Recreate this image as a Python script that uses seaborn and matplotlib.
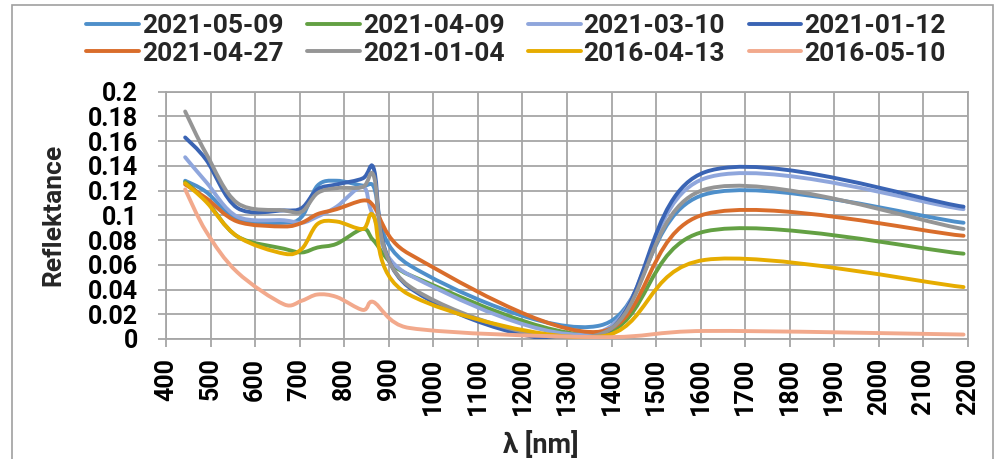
import numpy as np
import pandas as pd
import matplotlib
matplotlib.use("Agg")
import matplotlib.pyplot as plt
import seaborn as sns
from matplotlib.path import Path
from matplotlib.patches import PathPatch, Rectangle
from matplotlib.lines import Line2D

# ---- data (Sentinel-2 band centres, reflectance) ----
wavelength = [443, 490, 560, 665, 705, 740, 783, 842, 865, 945, 1375, 1610, 2190]

dates = ["2021-05-09", "2021-04-09", "2021-03-10", "2021-01-12",
         "2021-04-27", "2021-01-04", "2016-04-13", "2016-05-10"]

r_2021_05_09 = [0.128, 0.119, 0.097, 0.094, 0.099, 0.124, 0.128, 0.124, 0.124, 0.060, 0.011, 0.117, 0.094]
r_2021_04_09 = [0.127, 0.112, 0.083, 0.073, 0.070, 0.074, 0.077, 0.089, 0.080, 0.052, 0.004, 0.087, 0.069]
r_2021_03_10 = [0.147, 0.127, 0.099, 0.096, 0.094, 0.099, 0.107, 0.123, 0.100, 0.052, 0.006, 0.130, 0.105]
r_2021_01_12 = [0.163, 0.145, 0.106, 0.104, 0.106, 0.121, 0.125, 0.130, 0.139, 0.042, 0.003, 0.135, 0.107]
r_2021_04_27 = [0.125, 0.114, 0.095, 0.091, 0.094, 0.101, 0.105, 0.112, 0.108, 0.069, 0.006, 0.101, 0.0835]
r_2021_01_04 = [0.184, 0.150, 0.110, 0.104, 0.103, 0.118, 0.122, 0.123, 0.133, 0.043, 0.004, 0.121, 0.089]
r_2016_04_13 = [0.126, 0.111, 0.083, 0.069, 0.073, 0.093, 0.095, 0.089, 0.100, 0.036, 0.002, 0.064, 0.042]
r_2016_05_10 = [0.121, 0.087, 0.054, 0.028, 0.031, 0.036, 0.034, 0.0235, 0.030, 0.009, 0.0015, 0.0065, 0.0036]

series = [r_2021_05_09, r_2021_04_09, r_2021_03_10, r_2021_01_12,
          r_2021_04_27, r_2021_01_04, r_2016_04_13, r_2016_05_10]

colors = ["#4e8fca", "#63a043", "#8fa6dc", "#3a64b4",
          "#d96d2b", "#959595", "#e6ac00", "#f2a98c"]

x_ticks = list(range(400, 2201, 100))
y_ticks = [0, 0.02, 0.04, 0.06, 0.08, 0.1, 0.12, 0.14, 0.16, 0.18, 0.2]
y_labels = ["0", "0.02", "0.04", "0.06", "0.08", "0.1", "0.12", "0.14", "0.16", "0.18", "0.2"]

# ---- style ----
sns.set_style("white")
plt.rcParams["font.family"] = ["Roboto", "DejaVu Sans"]
plt.rcParams["font.weight"] = "bold"

W, H = 998, 459
fig = plt.figure(figsize=(W / 100, H / 100), dpi=100)
ax_l, ax_r, ax_t, ax_b = 166, 968, 91.7, 339
ax = fig.add_axes([ax_l / W, 1 - ax_b / H, (ax_r - ax_l) / W, (ax_b - ax_t) / H])

df = pd.concat([pd.DataFrame({"nm": wavelength, "refl": s, "date": d})
                for s, d in zip(series, dates)], ignore_index=True)

sns.lineplot(data=df, x="nm", y="refl", hue="date", hue_order=dates,
             palette=colors, linewidth=2.8, sort=False, legend=False, ax=ax)

ax.set_xlim(400, 2200)
ax.set_ylim(0, 0.2)

# Excel-style smoothed lines (Bezier through the plotted points)
sx = (ax_r - ax_l) / 1800.0
sy = (ax_b - ax_t) / 0.2


def excel_path(xs, ys):
    P = np.column_stack([np.asarray(xs, float) * sx, np.asarray(ys, float) * sy])
    n = len(P)
    verts = [P[0]]
    codes = [Path.MOVETO]
    for i in range(n - 1):
        p0 = P[i - 1] if i > 0 else P[i]
        p1, p2 = P[i], P[i + 1]
        p3 = P[i + 2] if i + 2 < n else P[i + 1]
        d12 = np.hypot(*(p2 - p1))
        d02 = np.hypot(*(p2 - p0))
        d13 = np.hypot(*(p3 - p1))
        f = 1 / 6
        f1 = f if d02 * f < d12 / 2 else (d12 / 2 / d02 if d02 > 0 else 0)
        f2 = f if d13 * f < d12 / 2 else (d12 / 2 / d13 if d13 > 0 else 0)
        b1 = p1 + (p2 - p0) * f1
        b2 = p2 - (p3 - p1) * f2
        verts += [b1, b2, p2]
        codes += [Path.CURVE4] * 3
    V = np.array(verts)
    V[:, 0] /= sx
    V[:, 1] /= sy
    return Path(V, codes)


for line in list(ax.lines):
    xd, yd = line.get_xdata(), line.get_ydata()
    if len(xd) < 2:
        continue
    patch = PathPatch(excel_path(xd, yd), facecolor="none", edgecolor=line.get_color(),
                      linewidth=line.get_linewidth(), capstyle="round", joinstyle="round",
                      zorder=3)
    ax.add_patch(patch)
    line.set_visible(False)

# ---- axes cosmetics ----
grid_c = "#a6a6a6"
ax.set_xticks(x_ticks)
ax.set_xticklabels([str(v) for v in x_ticks], rotation=90, fontsize=18, fontweight="bold")
ax.set_yticks(y_ticks)
ax.set_yticklabels(y_labels, fontsize=18, fontweight="bold")
ax.grid(True, color=grid_c, linewidth=1.3)
ax.set_axisbelow(True)
for s in ax.spines.values():
    s.set_color(grid_c)
    s.set_linewidth(1.3)
ax.tick_params(axis="both", which="major", length=6, width=1.3, color=grid_c,
               direction="out", labelcolor="black")
ax.tick_params(axis="y", left=True, pad=14)
ax.tick_params(axis="x", bottom=True, pad=7.5)
ax.set_xlabel("λ [nm]", fontsize=19.5, fontweight="bold")
ax.set_ylabel("Reflektance", fontsize=19, fontweight="bold")
ax.xaxis.set_label_coords((541 - ax_l) / (ax_r - ax_l), (ax_b - 431) / (ax_b - ax_t))
ax.yaxis.set_label_coords((65 - ax_l) / (ax_r - ax_l), 0.5)

# legend (row-major order like the reference)
order = [0, 4, 1, 5, 2, 6, 3, 7]
handles = [Line2D([], [], color=colors[i], linewidth=2.8) for i in order]
labels = [dates[i] for i in order]
fig.legend(handles, labels, ncol=4, loc="center", bbox_to_anchor=(516 / W, 1 - 40 / H),
           frameon=False, handlelength=2.0, handletextpad=0.1,
           columnspacing=0.9, labelspacing=0.12, prop={"weight": "bold", "size": 19})

# chart border
fig.add_artist(Rectangle((12 / W, -0.05), (993 - 12) / W, 1.05 - 5 / H,
                         transform=fig.transFigure, fill=False,
                         edgecolor="#a0a0a0", linewidth=1.2))

fig.savefig("out.png", dpi=100)
